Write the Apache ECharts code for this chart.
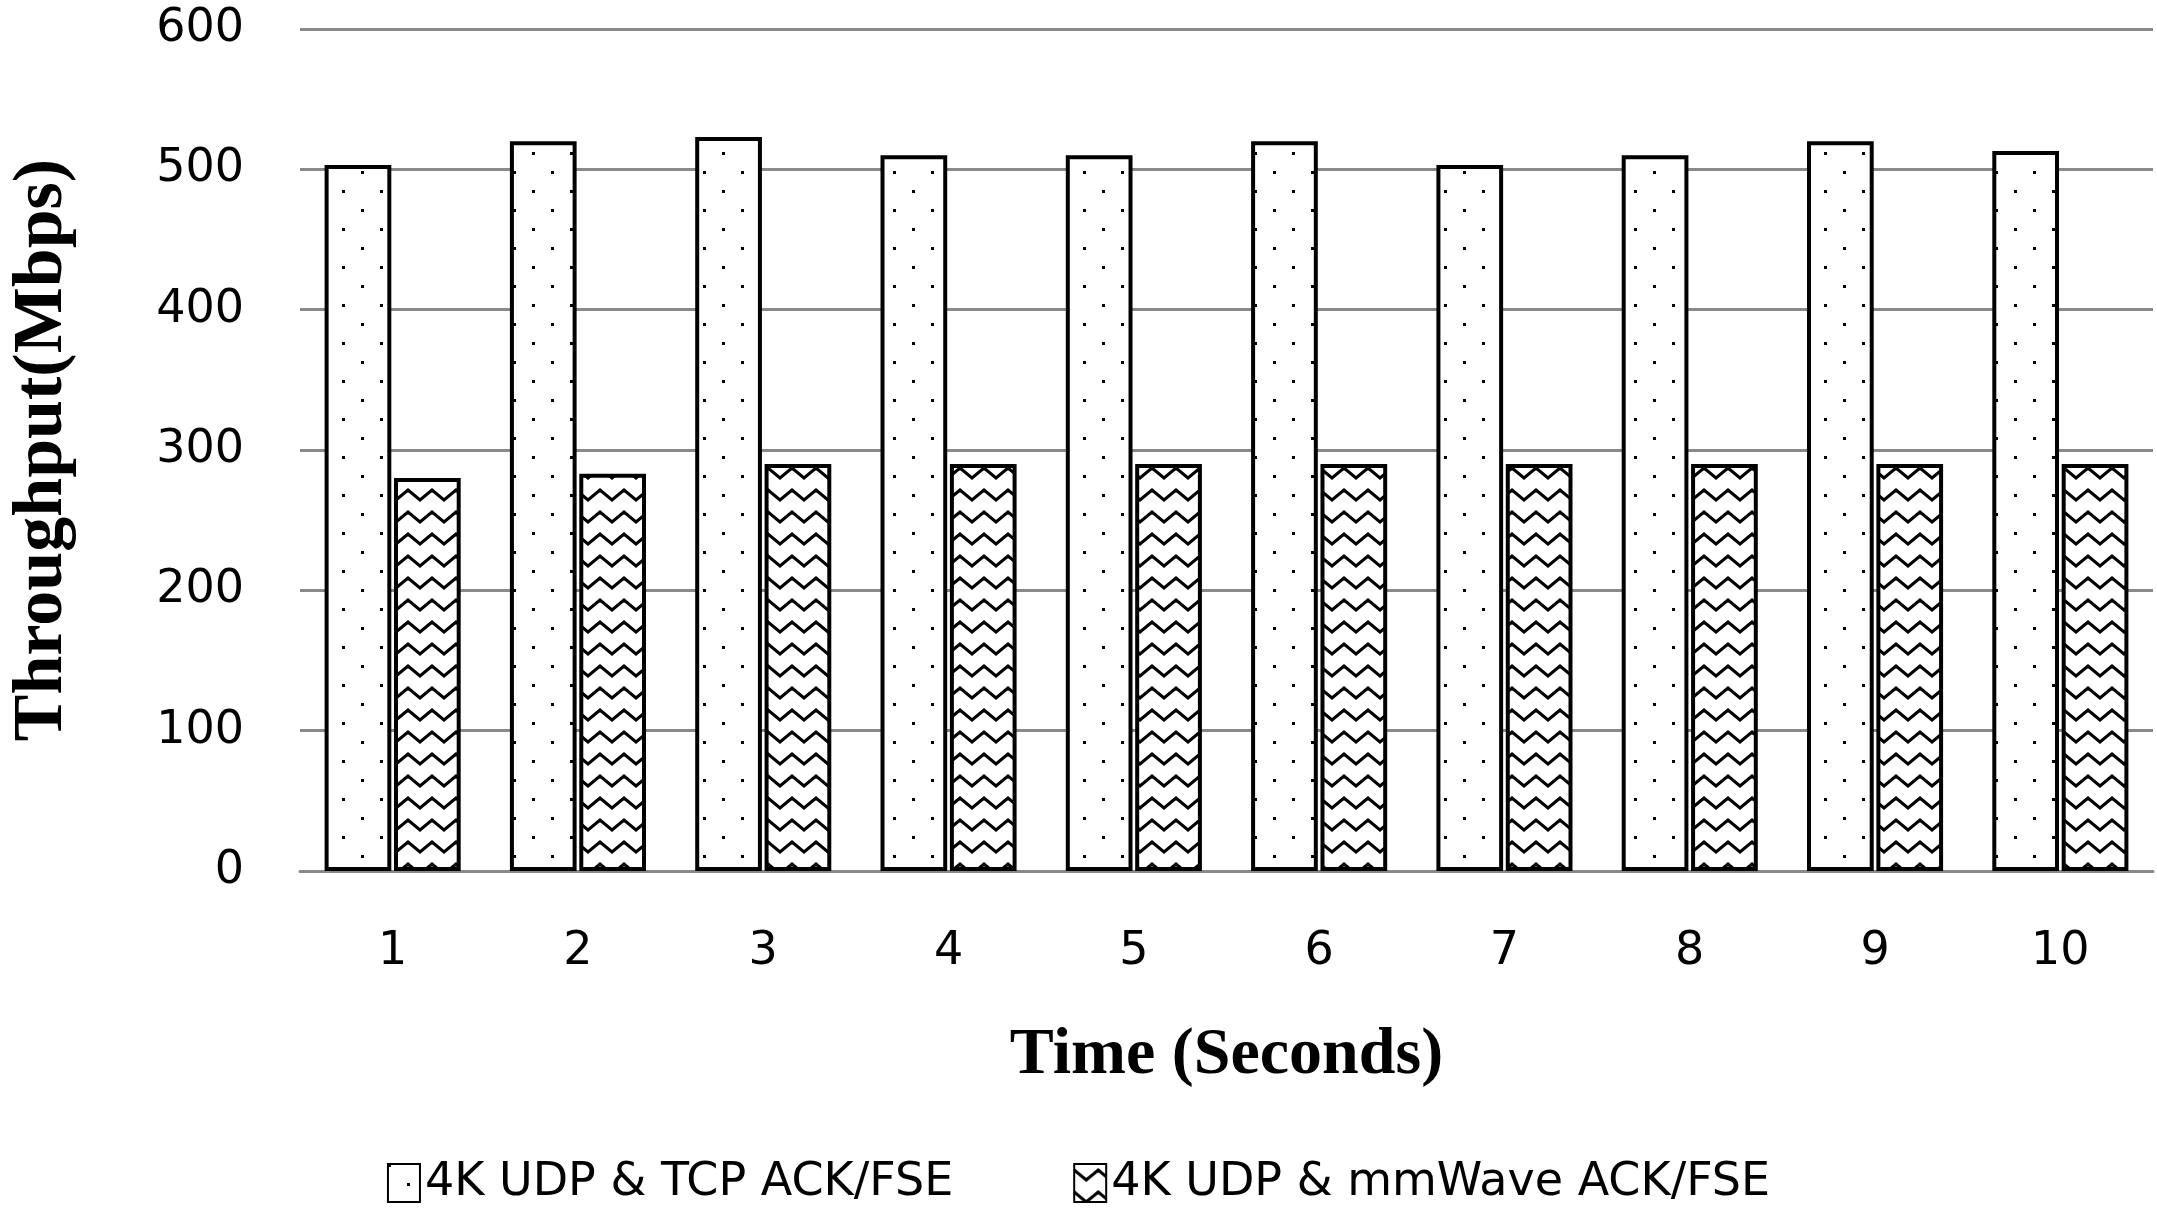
<!DOCTYPE html>
<html>
<head>
<meta charset="utf-8">
<script src="https://cdn.jsdelivr.net/npm/echarts@6/dist/echarts.min.js"></script>
<style>
html,body{margin:0;padding:0;background:#fff;}
#main{width:2157px;height:1213px;}
</style>
</head>
<body>
<div id="main"></div>
<script>
var categories = ['1','2','3','4','5','6','7','8','9','10'];
var tcpAck = [503, 520, 523, 510, 510, 520, 503, 510, 520, 513];
var mmWaveAck = [280, 283, 290, 290, 290, 290, 290, 290, 290, 290];
var seriesNames = ['4K UDP & TCP ACK/FSE', '4K UDP & mmWave ACK/FSE'];

// dotted fill
function dotPattern(){
    var c = document.createElement('canvas');
    c.width = 38; c.height = 38;
    var g = c.getContext('2d');
    g.fillStyle = '#fff'; g.fillRect(0,0,38,38);
    g.fillStyle = '#000';
    g.fillRect(0,0,3,3);
    g.fillRect(19,19,3,3);
    return c;
}
// zigzag fill
function zigPattern(){
    var c = document.createElement('canvas');
    c.width = 24; c.height = 22;
    var g = c.getContext('2d');
    g.fillStyle = '#fff'; g.fillRect(0,0,24,22);
    g.strokeStyle = '#000'; g.lineWidth = 3;
    g.beginPath();
    g.moveTo(-6,16); g.lineTo(0,6); g.lineTo(12,16); g.lineTo(24,6); g.lineTo(30,16);
    g.stroke();
    return c;
}

var myChart = echarts.init(document.getElementById('main'));
var option = {
    animation: false,
    grid: { left: 270, right: 4, top: 29, bottom: 342 },
    legend: {
        bottom: 2,
        left: 'center',
        icon: 'rect',
        itemWidth: 32,
        itemHeight: 38,
        itemGap: 120,
        textStyle: { fontFamily: 'DejaVu Sans', fontSize: 46, color: '#000' },
        data: seriesNames
    },
    xAxis: {
        type: 'category',
        data: categories,
        name: 'Time (Seconds)',
        nameLocation: 'middle',
        nameGap: 152,
        nameTextStyle: { fontFamily: 'Liberation Serif', fontWeight: 'bold', fontSize: 66, color: '#000' },
        axisLine: { lineStyle: { color: '#898989', width: 3 } },
        axisTick: { show: false },
        axisLabel: { fontFamily: 'DejaVu Sans', fontSize: 46, color: '#000', margin: 58 }
    },
    yAxis: {
        type: 'value',
        min: 0, max: 600, interval: 100,
        name: 'Throughput(Mbps)',
        nameLocation: 'middle',
        nameGap: 222,
        nameTextStyle: { fontFamily: 'Liberation Serif', fontWeight: 'bold', fontSize: 70, color: '#000' },
        axisLine: { show: false },
        axisTick: { show: false },
        axisLabel: { fontFamily: 'DejaVu Sans', fontSize: 46, color: '#000', margin: 56 },
        splitLine: { lineStyle: { color: '#898989', width: 3 } }
    },
    series: [{
        name: seriesNames[0],
        type: 'bar',
        data: tcpAck,
        barWidth: '36%',
        barGap: '4%',
        itemStyle: { color: { image: dotPattern(), repeat: 'repeat' }, borderColor: '#000', borderWidth: 4 }
    }, {
        name: seriesNames[1],
        type: 'bar',
        data: mmWaveAck,
        barWidth: '36%',
        itemStyle: { color: { image: zigPattern(), repeat: 'repeat' }, borderColor: '#000', borderWidth: 4 }
    }]
};
myChart.setOption(option);
</script>
</body>
</html>
